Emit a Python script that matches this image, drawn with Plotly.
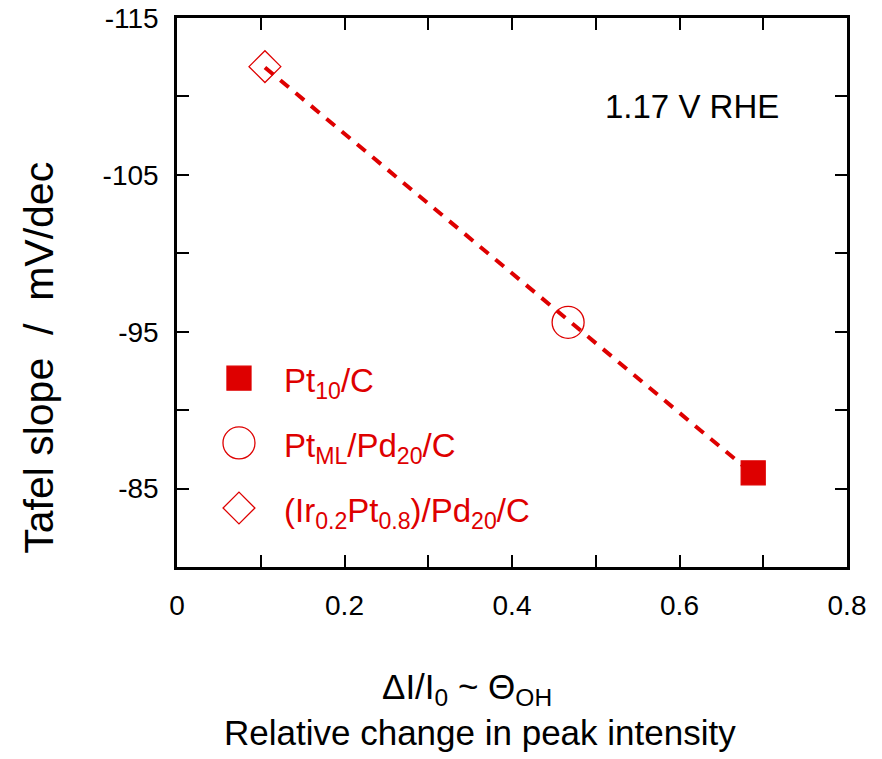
import numpy as np
import plotly.graph_objects as go

# ---- data ----
samples = ["Pt<sub>10</sub>/C", "Pt<sub>ML</sub>/Pd<sub>20</sub>/C",
           "(Ir<sub>0.2</sub>Pt<sub>0.8</sub>)/Pd<sub>20</sub>/C"]
delta_I = [0.688, 0.467, 0.105]          # ΔI/I0
tafel = [-86.0, -95.6, -111.9]           # mV/dec
symbols = ["square", "circle-open", "diamond-open"]
sizes = [24, 32, 24.5]

x_ticks = [0, 0.2, 0.4, 0.6, 0.8]
x_ticktext = ["0", "0.2", "0.4", "0.6", "0.8"]
y_ticks = [-115, -105, -95, -85]
y_ticktext = ["-115", "-105", "-95", "-85"]

RED = "#de0000"
FONT = "Liberation Sans, Arial, sans-serif"

fig = go.Figure()

# fitted dashed line
coef = np.polyfit(delta_I, tafel, 1)
xl = np.array([min(delta_I), max(delta_I)])
fig.add_trace(go.Scatter(x=xl, y=np.polyval(coef, xl), mode="lines",
                         line=dict(color=RED, width=4, dash="11px,9px"),
                         showlegend=False, hoverinfo="skip"))

for xv, yv, sym, sz in zip(delta_I, tafel, symbols, sizes):
    fig.add_trace(go.Scatter(x=[xv], y=[yv], mode="markers",
                             marker=dict(symbol=sym, size=sz, color=RED,
                                         line=dict(color=RED, width=1.3)),
                             showlegend=False))

# legend keys on an overlay axis (fractions of plot area)
leg_x = [0.0925, 0.0925, 0.0925]
leg_y = [0.344, 0.226, 0.1075]
for lx, ly, sym, sz, name in zip(leg_x, leg_y, symbols, sizes, samples):
    fig.add_trace(go.Scatter(x=[lx], y=[ly], mode="markers", xaxis="x2", yaxis="y2",
                             marker=dict(symbol=sym, size=sz, color=RED,
                                         line=dict(color=RED, width=1.3)),
                             showlegend=False, hoverinfo="skip"))
    fig.add_annotation(x=0.1567, y=ly, xref="x2", yref="y2", text=name,
                       showarrow=False, xanchor="left", yanchor="middle",
                       yshift=-5,
                       font=dict(family=FONT, size=33, color=RED))

axis_common = dict(showline=True, linecolor="black", linewidth=2.5,
                   mirror="ticks", ticks="inside", ticklen=12, tickwidth=2,
                   tickcolor="black", showgrid=False, zeroline=False,
                   automargin=False, ticklabeloverflow="allow",
                   tickfont=dict(family=FONT, size=28, color="black"))

fig.update_layout(
    width=874, height=751,
    margin=dict(l=169, r=35, t=10, b=192),
    plot_bgcolor="white", paper_bgcolor="white",
    xaxis=dict(range=[0, 0.8], tickmode="array", tickvals=x_ticks,
               ticktext=x_ticktext, ticklabelstandoff=12,
               minor=dict(dtick=0.1, ticks="inside", ticklen=12, tickwidth=2,
                          tickcolor="black", showgrid=False),
               **axis_common),
    yaxis=dict(range=[-80, -115], tickmode="array", tickvals=y_ticks,
               ticktext=y_ticktext, ticklabelstandoff=10,
               minor=dict(tickmode="array", tickvals=[-110, -100, -90],
                          ticks="inside", ticklen=12, tickwidth=2,
                          tickcolor="black", showgrid=False),
               **axis_common),
    xaxis2=dict(overlaying="x", range=[0, 1], visible=False),
    yaxis2=dict(overlaying="y", range=[0, 1], visible=False),
    showlegend=False,
)

fig.add_annotation(x=0.768, y=0.838, xref="paper", yref="paper",
                   text="1.17 V RHE", showarrow=False,
                   xanchor="center", yanchor="middle",
                   font=dict(family=FONT, size=33, color="black"))

fig.add_annotation(x=-0.206, y=0.381, xref="paper", yref="paper",
                   text="Tafel slope  /  mV/dec", textangle=-90, showarrow=False,
                   xanchor="center", yanchor="middle",
                   font=dict(family=FONT, size=41, color="black"))

fig.add_annotation(x=0.4328, y=-0.2277, xref="paper", yref="paper",
                   text="ΔI/I<sub>0</sub> ~ Θ<sub>OH</sub>", showarrow=False,
                   xanchor="center", yanchor="middle", yshift=3,
                   font=dict(family=FONT, size=35, color="black"))

fig.add_annotation(x=0.452, y=-0.2951, xref="paper", yref="paper",
                   text="Relative change in peak intensity", showarrow=False,
                   xanchor="center", yanchor="middle", yshift=-3,
                   font=dict(family=FONT, size=35, color="black"))

fig.write_html("out.html")
